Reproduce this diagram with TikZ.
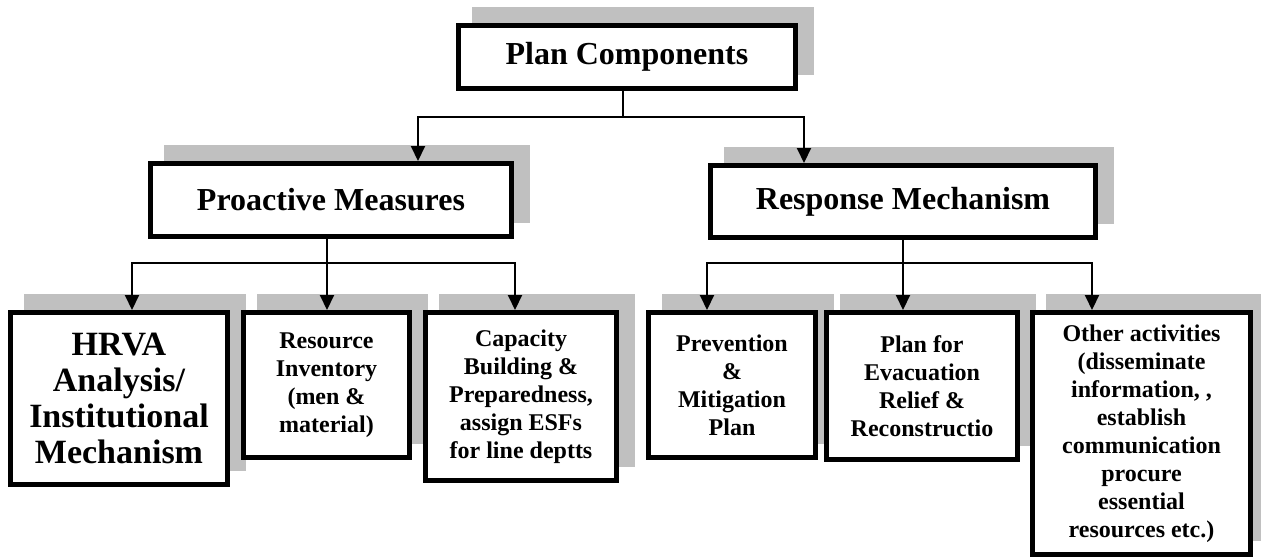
\documentclass[tikz,border=0pt]{standalone}
\usepackage{fontspec}
\setmainfont{Liberation Serif}
\usepackage{tikz}
\usetikzlibrary{arrows.meta,shadows}
\definecolor{shadowgray}{HTML}{C0C0C0}
\tikzset{
  box/.style={draw, line width=5pt, fill=white, align=center, inner sep=0pt,
    general shadow={fill=shadowgray, draw=shadowgray, shadow xshift=16pt, shadow yshift=16pt}},
  big/.style={box, font=\bfseries\fontsize{32}{37}\selectfont},
  small/.style={box, font=\bfseries\fontsize{24}{28}\selectfont},
  link/.style={line width=2pt},
  arr/.style={link, -{Triangle[length=15pt,width=14pt]}}
}
\begin{document}
\begin{tikzpicture}[x=1pt,y=-1pt]
  \useasboundingbox (0,0) rectangle (1261,558);
  % top level
  \node [big, minimum width=337pt, minimum height=63pt] (plan) at (627,57) {Plan Components};
  \node [big, minimum width=361pt, minimum height=73pt] (pro) at (331,200) {Proactive Measures};
  \node [big, minimum width=385pt, minimum height=72pt] (resp) at (903,201.5) {Response Mechanism};
  % proactive side
  \node [big, font=\bfseries\fontsize{34}{36}\selectfont, minimum width=217pt, minimum height=172pt] (hrva) at (119,398.5)
    {HRVA\\Analysis/\\Institutional\\Mechanism};
  \node [small, minimum width=166pt, minimum height=145pt] (res) at (326.5,385)
    {Resource\\Inventory\\(men \&\\material)};
  \node [small, minimum width=191pt, minimum height=168pt] (cap) at (521,396.5)
    {Capacity\\Building \&\\Preparedness,\\assign ESFs\\for line deptts};
  % response side
  \node [small, minimum width=167pt, minimum height=145pt] (prev) at (732,385)
    {Prevention\\\&\\Mitigation\\Plan};
  \node [small, minimum width=191pt, minimum height=147pt] (evac) at (922,386)
    {Plan for\\Evacuation\\Relief \&\\Reconstructio};
  \node [small, minimum width=218pt, minimum height=242pt] (other) at (1141.5,433.5)
    {Other activities\\(disseminate\\information, ,\\establish\\communication\\procure\\essential\\resources etc.)};
  % connectors
  \coordinate (j0) at (623,117);
  \coordinate (j1) at (327,263);
  \coordinate (j2) at (903,263);
  \draw [link] (plan.south -| j0) -- (j0);
  \draw [arr] (j0) -| ([xshift=87pt]pro.north);
  \draw [arr] (j0) -| ([xshift=-99pt]resp.north);
  \draw [link] (pro.south -| j1) -- (j1);
  \draw [arr] (j1) -| ([xshift=13pt]hrva.north);
  \draw [arr] (j1) -- (res.north -| j1);
  \draw [arr] (j1) -| ([xshift=-6pt]cap.north);
  \draw [link] (resp.south) -- (j2);
  \draw [arr] (j2) -| ([xshift=-25pt]prev.north);
  \draw [arr] (j2) -- (evac.north -| j2);
  \draw [arr] (j2) -| ([xshift=-49.5pt]other.north);
\end{tikzpicture}
\end{document}
